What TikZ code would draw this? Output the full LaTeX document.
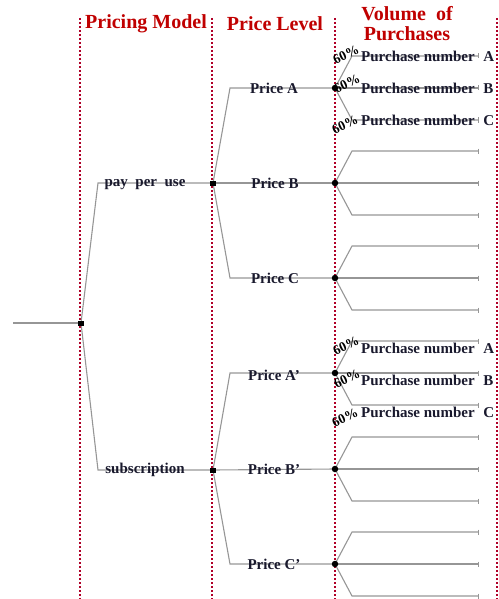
\documentclass[tikz,border=0pt]{standalone}
\usepackage{fontspec}
\setmainfont{Liberation Serif}
\usetikzlibrary{arrows.meta,backgrounds}
\definecolor{dred}{RGB}{192,0,0}
\definecolor{dotc}{RGB}{176,0,40}
\definecolor{txt}{RGB}{25,25,45}
\definecolor{ln}{RGB}{150,150,150}
\begin{document}
\begin{tikzpicture}[x=1pt,y=-1pt,
  sep/.style={draw=dotc, line width=2pt, dash pattern=on 2pt off 2pt},
  hdr/.style={text=dred, font=\fontsize{20}{20}\selectfont\bfseries, inner sep=0},
  br/.style={draw=ln, line width=1.1pt},
  tip/.style={-{Bar[width=5pt,line width=0.8pt]}},
  lbl/.style={text=txt, font=\fontsize{15}{17}\selectfont\bfseries, inner sep=0},
  pn/.style={lbl, anchor=west},
  pct/.style={text=black, font=\fontsize{13.5}{14}\selectfont\bfseries, rotate=25, inner sep=0},
  sq/.style={fill=black, minimum width=6pt, minimum height=5pt, inner sep=0},
  pdot/.style={circle, fill=black, minimum size=6.5pt, inner sep=0}]
\useasboundingbox (0,0) rectangle (498,599);
% headers
\node[hdr] (h1) at (146,24) {Pricing Model};
\node[hdr] (h2) at (275,24) {Price Level};
\node[hdr, align=center] (h3) at (407,24) {Volume\ \ of\\Purchases};
% tree nodes
\coordinate (start) at (13,323);
\node[sq] (root) at (81,323) {};
\node[sq] (ppu) at (213,183) {};
\node[sq] (sub) at (213,470) {};
\node[pdot] (pA) at (335,88) {};
\node[pdot] (pB) at (335,183) {};
\node[pdot] (pC) at (335,278) {};
\node[pdot] (pA2) at (335,373) {};
\node[pdot] (pB2) at (335,469) {};
\node[pdot] (pC2) at (335,564) {};
\begin{pgfonlayer}{background}
\foreach \x in {80,212,335,497} \draw[sep] (\x,18) -- (\x,599);
\draw[br] (start) -- (root.center);
\draw[br] (root.center) -- (98,183) -- (ppu.center);
\draw[br] (root.center) -- (98,470) -- (sub.center);
\draw[br] (ppu.center) -- (230,88) -- (pA.center);
\draw[br] (ppu.center) -- (pB.center);
\draw[br] (ppu.center) -- (230,278) -- (pC.center);
\draw[br] (sub.center) -- (230,373) -- (pA2.center);
\draw[br] (sub.center) -- (pB2.center);
\draw[br] (sub.center) -- (230,564) -- (pC2.center);
\foreach \n/\y in {pA/88,pB/183,pC/278,pA2/373,pB2/469,pC2/564} {
  \coordinate (\n-e1) at (479,\y-32);
  \coordinate (\n-e2) at (479,\y);
  \coordinate (\n-e3) at (479,\y+32);
  \draw[br,tip] (\n.center) -- (352,\y-32) -- (\n-e1);
  \draw[br,tip] (\n.center) -- (\n-e2);
  \draw[br,tip] (\n.center) -- (352,\y+32) -- (\n-e3);
}
\end{pgfonlayer}
% labels
\node[lbl] (lppu) at (145,185) {pay\ \ per\ \ use};
\node[lbl] (lsub) at (145,470) {subscription};
\node[lbl] (lA) at (274,88) {Price A};
\node[lbl] (lB) at (275,183) {Price B};
\node[lbl] (lC) at (275,278) {Price C};
\node[lbl] (lA2) at (274,375) {Price A’};
\node[lbl] (lB2) at (274,469) {Price B’};
\node[lbl] (lC2) at (274,564) {Price C’};
% purchase labels
\node[pn] (n1) at (361,56) {Purchase number\hspace{5pt} A};
\node[pn] (n2) at (361,88) {Purchase number\hspace{5pt} B};
\node[pn] (n3) at (361,120) {Purchase number\hspace{5pt} C};
\node[pn] (n4) at (361,348) {Purchase number\hspace{5pt} A};
\node[pn] (n5) at (361,380) {Purchase number\hspace{5pt} B};
\node[pn] (n6) at (361,412) {Purchase number\hspace{5pt} C};
% percentages
\node[pct] (q1) at (346,55) {60\%};
\node[pct] (q2) at (347,84) {60\%};
\node[pct] (q3) at (345,125) {60\%};
\node[pct] (q4) at (346,346) {60\%};
\node[pct] (q5) at (347,379) {60\%};
\node[pct] (q6) at (345,418) {60\%};
\end{tikzpicture}
\end{document}
